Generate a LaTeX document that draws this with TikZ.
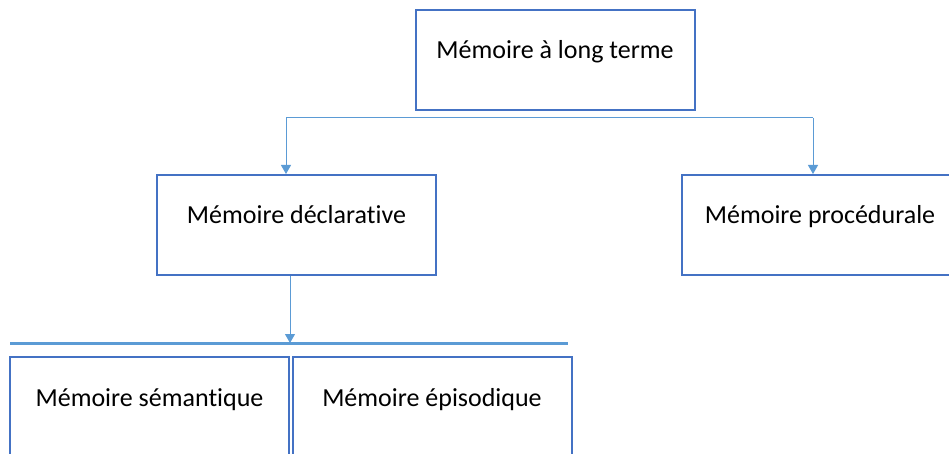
\documentclass[tikz,border=0pt]{standalone}
\usepackage{fontspec}
\setmainfont[Ligatures={NoCommon}]{Carlito}
\usetikzlibrary{arrows.meta,calc}
\definecolor{boxblue}{HTML}{4472C4}
\definecolor{linkblue}{HTML}{5B9BD5}
\begin{document}
\begin{tikzpicture}[x=1pt,y=-1pt,
  membox/.style={draw=boxblue, line width=2pt, rectangle, inner xsep=0pt, inner ysep=0pt,
    minimum width=279pt, text height=49pt, text depth=51pt, anchor=base,
    font=\fontsize{26}{30}\selectfont},
  link/.style={draw=linkblue, line width=1pt},
  arr/.style={link, -{Triangle[width=10pt,length=9pt]}}]
\useasboundingbox (0,0) rectangle (949,454);
\clip (0,0) rectangle (949,454);
\node[membox] (top) at (555,59) {Mémoire à long terme};
\node[membox] (decl) at (296.5,224) {Mémoire déclarative};
\node[membox, minimum width=276pt] (proc) at (820,224) {Mémoire procédurale};
\node[membox, text depth=60pt] (sem) at (149.5,406) {Mémoire sémantique};
\node[membox, text depth=60pt] (epi) at (432,406) {Mémoire épisodique};
\coordinate (L) at (286,118);
\coordinate (R) at (813,118);
\draw[link] (L) -- (R);
\draw[arr] (L) -- (L |- decl.north);
\draw[arr] (R) -- (R |- proc.north);
\coordinate (barL) at (10,343);
\coordinate (barR) at (568,343);
\draw[draw=linkblue, line width=3pt] (barL) -- (barR);
\coordinate (D) at (290,0);
\draw[arr] (D |- decl.south) -- (D |- barL);
\end{tikzpicture}
\end{document}
